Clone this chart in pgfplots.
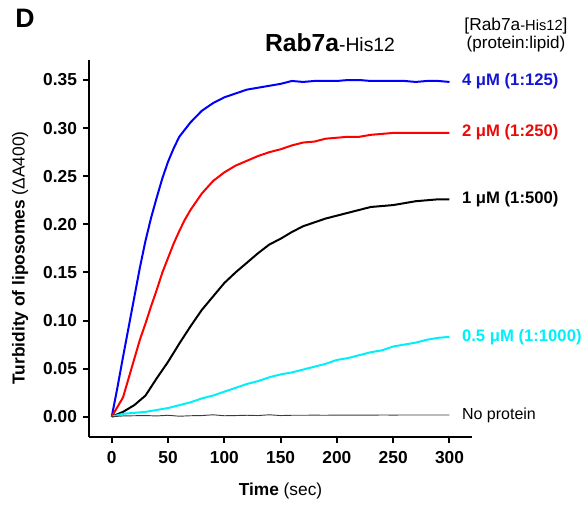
\documentclass[border=0pt]{standalone}
\usepackage{pgfplots}
\pgfplotsset{compat=1.18}
\usepackage{fontspec}
\setmainfont{Liberation Sans}
\definecolor{cblue}{RGB}{0,0,255}
\definecolor{cbluet}{RGB}{20,20,210}
\definecolor{cred}{RGB}{255,0,0}
\definecolor{credt}{RGB}{235,10,10}
\definecolor{ccyan}{RGB}{0,240,250}
\definecolor{cgray}{RGB}{60,60,60}
\begin{document}
\begin{tikzpicture}
\path[use as bounding box] (0,0) rectangle (441pt,378pt);
\node[font=\fontsize{20}{22}\selectfont\bfseries, anchor=west] at (8pt,364.5pt) {D};
\node[anchor=base] at (247.5pt,339pt) {{\fontsize{18.5}{20}\selectfont\bfseries Rab7a}{\fontsize{14.5}{16}\selectfont -His12}};
\node[anchor=base] at (387pt,355pt) {{\fontsize{13}{15}\selectfont [Rab7a}{\fontsize{11}{13}\selectfont -His12}{\fontsize{13}{15}\selectfont ]}};
\node[anchor=base] at (387pt,341.5pt) {\fontsize{12.8}{15}\selectfont (protein:lipid)};
\begin{axis}[
  at={(66.75pt,50.25pt)}, anchor=south west,
  scale only axis, width=287.25pt, height=282.75pt,
  xmin=-20.2, xmax=320, ymin=-0.0211, ymax=0.3708,
  axis x line=bottom, axis y line=left,
  axis line style={-, line width=2pt},
  tick align=outside, major tick length=4.5pt,
  every tick/.style={line width=1.5pt, black},
  xtick={0,50,...,300}, ytick={0,0.05,...,0.36},
  minor tick num=0,
  /pgf/number format/assume math mode=true,
  yticklabel style={/pgf/number format/fixed, /pgf/number format/fixed zerofill, /pgf/number format/precision=2, xshift=-1pt},
  ticklabel style={font=\fontsize{13}{15}\selectfont\bfseries},
  xticklabel style={yshift=-3pt},
  xlabel={\textbf{Time} (sec)},
  ylabel={\textbf{Turbidity of liposomes} (ΔA400)},
  label style={font=\fontsize{13}{15}\selectfont},
  xlabel style={at={(axis description cs:0.5,-0.143)}, anchor=center},
  ylabel style={at={(axis description cs:-0.18,0.475)}, anchor=center},
  clip=false,
]
\addplot[cblue, line width=1.5pt] coordinates {
(0,0) (5,0.03) (10,0.062) (15,0.093) (20,0.124) (25,0.155) (30,0.183) (35,0.207) (40,0.228) (45,0.248) (50,0.265) (55,0.279) (60,0.291) (70,0.306) (80,0.318) (90,0.326) (100,0.332) (110,0.336) (120,0.340) (130,0.342) (140,0.344) (150,0.346) (160,0.349) (170,0.348) (180,0.349) (190,0.349) (200,0.349) (210,0.350) (220,0.350) (230,0.349) (240,0.349) (250,0.349) (260,0.349) (270,0.348) (280,0.349) (290,0.349) (300,0.348)};
\addplot[cred, line width=1.5pt] coordinates {
(0,0) (5,0.01) (10,0.02) (15,0.04) (20,0.06) (25,0.08) (30,0.097) (35,0.115) (40,0.132) (45,0.150) (50,0.165) (55,0.180) (60,0.193) (65,0.205) (70,0.215) (80,0.232) (90,0.245) (100,0.254) (110,0.261) (120,0.266) (130,0.271) (140,0.275) (150,0.278) (160,0.282) (170,0.285) (180,0.286) (190,0.289) (200,0.290) (210,0.291) (220,0.291) (230,0.293) (240,0.294) (250,0.295) (260,0.295) (270,0.295) (280,0.295) (290,0.295) (300,0.295)};
\addplot[black, line width=1.5pt] coordinates {
(0,0) (10,0.005) (20,0.012) (30,0.022) (40,0.040) (50,0.057) (60,0.076) (70,0.094) (80,0.111) (90,0.125) (100,0.139) (110,0.150) (120,0.160) (130,0.170) (140,0.179) (150,0.185) (160,0.192) (170,0.198) (180,0.202) (190,0.206) (200,0.209) (210,0.212) (220,0.215) (230,0.218) (240,0.219) (250,0.220) (260,0.222) (270,0.224) (280,0.225) (290,0.226) (300,0.226)};
\addplot[ccyan, line width=1.5pt] coordinates {
(0,0) (10,0.003) (20,0.004) (30,0.005) (40,0.007) (50,0.009) (60,0.012) (70,0.015) (80,0.019) (90,0.022) (100,0.026) (110,0.030) (120,0.034) (130,0.037) (140,0.041) (150,0.044) (160,0.046) (170,0.049) (180,0.052) (190,0.055) (200,0.059) (210,0.061) (220,0.064) (230,0.067) (240,0.069) (250,0.073) (260,0.075) (270,0.077) (280,0.080) (290,0.082) (300,0.083)};
\addplot[cgray, line width=0.7pt] coordinates {
(0,0) (10,0.0008) (20,0.001) (30,0.0012) (40,0.0008) (50,0.0015) (60,0.0005) (70,0.001) (80,0.0012) (90,0.002) (100,0.001) (110,0.0012) (120,0.0015) (130,0.0012) (140,0.002) (150,0.0012) (160,0.0015) (170,0.0015) (180,0.0016) (190,0.0015) (200,0.0017) (210,0.0016) (220,0.0017) (230,0.0016) (240,0.0018) (250,0.0017) (260,0.0018) (270,0.0018) (280,0.0018) (290,0.0018) (300,0.0018)};
\node[anchor=west, text=cbluet, font=\fontsize{12.5}{14}\selectfont\bfseries] at (axis cs:307,0.349) {4 μM (1:125)};
\node[anchor=west, text=credt, font=\fontsize{12.5}{14}\selectfont\bfseries] at (axis cs:307,0.296) {2 μM (1:250)};
\node[anchor=west, text=black, font=\fontsize{12.5}{14}\selectfont\bfseries] at (axis cs:307,0.2266) {1 μM (1:500)};
\node[anchor=west, text=ccyan, font=\fontsize{12.5}{14}\selectfont\bfseries] at (axis cs:307,0.0828) {0.5 μM (1:1000)};
\node[anchor=west, text=black, font=\fontsize{12}{14}\selectfont] at (axis cs:307,0.0018) {No protein};
\end{axis}
\end{tikzpicture}
\end{document}
